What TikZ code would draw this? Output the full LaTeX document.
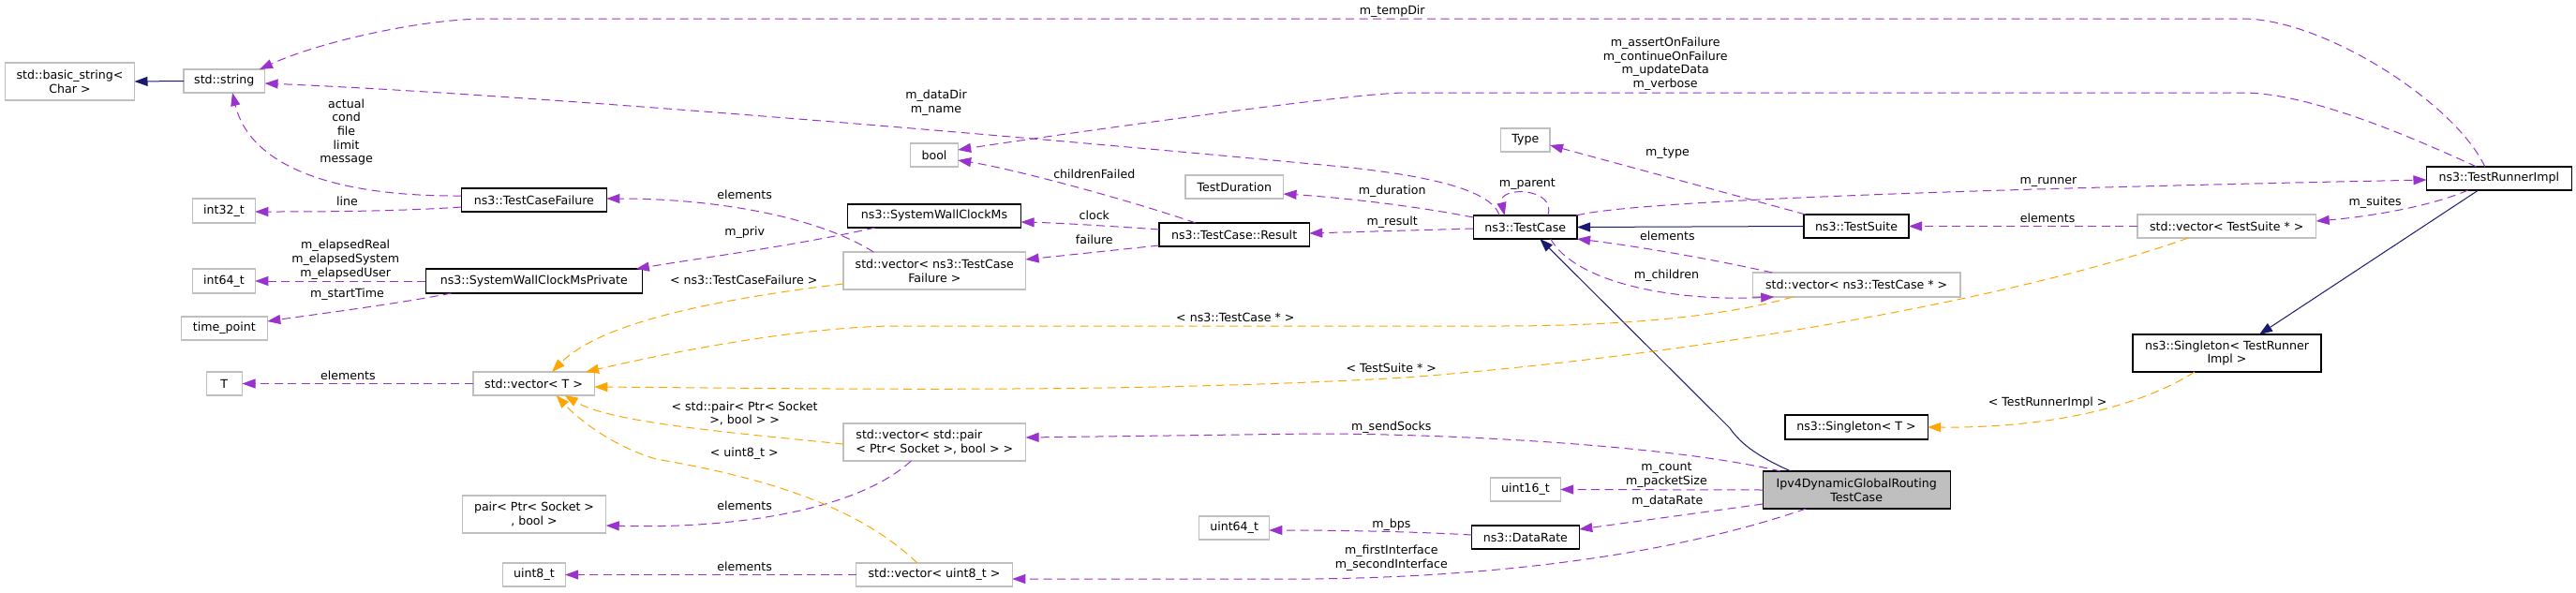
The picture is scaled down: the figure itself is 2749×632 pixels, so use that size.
\documentclass[tikz,border=0pt]{standalone}
\usepackage{fontspec}
\setmainfont{DejaVu Sans}
\usetikzlibrary{arrows.meta}
\definecolor{usepurple}{HTML}{9A32CD}
\definecolor{tmplorange}{HTML}{FFA500}
\definecolor{inhnavy}{HTML}{191970}
\definecolor{boxgrey}{HTML}{BFBFBF}
\newcommand\dgfont{\fontsize{12.6}{14.7}\selectfont}
\begin{document}
\begin{tikzpicture}[x=1pt,y=-1pt,
  every node/.style={font=\dgfont, inner sep=0pt, outer sep=0pt},
  sz/.style 2 args={minimum width=#1pt, minimum height=#2pt},
  gbox/.style={draw=boxgrey, line width=1.2pt, fill=white, align=center},
  bbox/.style={draw=black, line width=1.2pt, fill=white, align=center},
  lbl/.style={align=center, text=black},
  tipped/.style={-{Triangle[length=14pt,width=10pt]}},
  usage/.style={tipped, draw=usepurple, line width=1pt, dash pattern=on 9pt off 5.5pt},
  tmpl/.style={tipped, draw=tmplorange, line width=1pt, dash pattern=on 9pt off 5.5pt},
  inh/.style={tipped, draw=inhnavy, line width=1pt},
]
\useasboundingbox (0,0) rectangle (2749,632);
\fill[white] (0,0) rectangle (2749,632);

% ---------------- nodes ----------------
\node[gbox, sz={138}{40}] (bstr) at (74.5,87) {std::basic\_string<\\Char >};
\node[gbox, sz={86.6}{25}] (str) at (239.3,86.5) {std::string};
\node[gbox, sz={66.5}{26}] (i32) at (239,225) {int32\_t};
\node[bbox, sz={155}{25}] (tcf) at (569.9,213.5) {ns3::TestCaseFailure};
\node[gbox, sz={66.5}{26}] (i64) at (239,300) {int64\_t};
\node[bbox, sz={230.8}{26}] (swp) at (569.8,300) {ns3::SystemWallClockMsPrivate};
\node[gbox, sz={92}{25}] (tp) at (239.3,350.5) {time\_point};
\node[gbox, sz={38.4}{25}] (T) at (239.3,409.5) {T};
\node[gbox, sz={129.4}{25}] (vT) at (569.6,409.5) {std::vector< T >};
\node[gbox, sz={153.5}{40}] (pair) at (570,549) {pair< Ptr< Socket >\\, bool >};
\node[gbox, sz={66.5}{25}] (u8) at (569.9,613.5) {uint8\_t};
\node[gbox, sz={50.4}{25}] (bool) at (997,165.5) {bool};
\node[bbox, sz={185.2}{25}] (swc) at (997,230.5) {ns3::SystemWallClockMs};
\node[gbox, sz={194.6}{40}] (vtcf) at (997.3,289) {std::vector< ns3::TestCase\\Failure >};
\node[bbox, sz={160.3}{25}] (res) at (1317.1,250.5) {ns3::TestCase::Result};
\node[gbox, sz={104.5}{25}] (dur) at (1317.3,199.5) {TestDuration};
\node[gbox, sz={194.6}{40}, align=left] (vpair) at (997.3,472) {std::vector< std::pair\\< Ptr< Socket >, bool > >};
\node[gbox, sz={74.5}{25}] (u64) at (1317.1,563.5) {uint64\_t};
\node[gbox, sz={166.5}{25}] (vu8) at (997,613.5) {std::vector< uint8\_t >};
\node[gbox, sz={52.2}{25}] (type) at (1627.9,149.5) {Type};
\node[bbox, sz={110.7}{25}] (tc) at (1627.7,242.5) {ns3::TestCase};
\node[bbox, sz={112}{25}] (ts) at (1981,241.5) {ns3::TestSuite};
\node[gbox, sz={221.4}{26}] (vtc) at (1981.2,304) {std::vector< ns3::TestCase * >};
\node[bbox, sz={152.2}{26}] (sgT) at (1981,456) {ns3::Singleton< T >};
\node[bbox, sz={200}{40}, fill=boxgrey] (ipv4) at (1981.2,523) {Ipv4DynamicGlobalRouting\\TestCase};
\node[gbox, sz={74.6}{25}] (u16) at (1627.9,522.5) {uint16\_t};
\node[bbox, sz={114.8}{25}] (dr) at (1627.9,573.5) {ns3::DataRate};
\node[bbox, sz={154.7}{25}] (tri) at (2666.8,190.5) {ns3::TestRunnerImpl};
\node[gbox, sz={190.8}{25}] (vts) at (2376.3,241.5) {std::vector< TestSuite * >};
\node[bbox, sz={201}{40}] (sgTRI) at (2376.5,377) {ns3::Singleton< TestRunner\\Impl >};

% ---------------- labels ----------------
\node[lbl] (Lactual) at (369.6,141) {actual\\cond\\file\\limit\\message};
\node[lbl] (Lline) at (370.5,215) {line};
\node[lbl] (Lelapsed) at (368.7,277) {m\_elapsedReal\\m\_elapsedSystem\\m\_elapsedUser};
\node[lbl] (Lstart) at (370.5,314) {m\_startTime};
\node[lbl] (LelemT) at (371.4,400.7) {elements};
\node[lbl] (LdataDir) at (999,109.7) {m\_dataDir\\m\_name};
\node[lbl] (Lchildf) at (1167.8,186) {childrenFailed};
\node[lbl] (Lclock) at (1167.8,230) {clock};
\node[lbl] (Lfailure) at (1167.8,255.3) {failure};
\node[lbl] (LelemTCF) at (794.6,207.3) {elements};
\node[lbl] (Lpriv) at (794.6,248.3) {m\_priv};
\node[lbl] (LtcfT) at (793.7,298.3) {< ns3::TestCaseFailure >};
\node[lbl] (LtcT) at (1318.3,339.3) {< ns3::TestCase * >};
\node[lbl] (LpairT) at (794.6,441.3) {< std::pair< Ptr< Socket\\>, bool > >};
\node[lbl] (Lu8T) at (794.2,484.3) {< uint8\_t >};
\node[lbl] (LelemPair) at (794.6,539.3) {elements};
\node[lbl] (LelemU8) at (794.6,604.3) {elements};
\node[lbl] (Ltemp) at (1485.7,11.7) {m\_tempDir};
\node[lbl] (Lassert) at (1777.2,68.3) {m\_assertOnFailure\\m\_continueOnFailure\\m\_updateData\\m\_verbose};
\node[lbl] (Ltype) at (1779.4,163.7) {m\_type};
\node[lbl] (Lparent) at (1629.9,196.7) {m\_parent};
\node[lbl] (Lduration) at (1485.7,204.3) {m\_duration};
\node[lbl] (Lresult) at (1485.7,236.7) {m\_result};
\node[lbl] (LelemTC) at (1779.4,251.7) {elements};
\node[lbl] (Lchildren) at (1778.5,294.3) {m\_children};
\node[lbl] (LtsT) at (1484.8,392.3) {< TestSuite * >};
\node[lbl] (Lsend) at (1484.8,455.7) {m\_sendSocks};
\node[lbl] (Lcount) at (1778.5,507.2) {m\_count\\m\_packetSize};
\node[lbl] (LdataRate) at (1779.4,534.7) {m\_dataRate};
\node[lbl] (Lbps) at (1484.8,559.7) {m\_bps};
\node[lbl] (Lfirst) at (1484.8,596) {m\_firstInterface\\m\_secondInterface};
\node[lbl] (Lrunner) at (2186,194.7) {m\_runner};
\node[lbl] (Lsuites) at (2534.6,215.7) {m\_suites};
\node[lbl] (LelemTS) at (2185.1,232.3) {elements};
\node[lbl] (LtriT) at (2185.1,430) {< TestRunnerImpl >};

% ---------------- connectors ----------------
% inheritance
\draw[inh] (str.west) -- (bstr.east);
\draw[inh] (ts.west) -- (tc.east);
\draw[inh] ([shift={(-70,0)}]ipv4.north) .. controls (1870,485) and (1855,470) .. (1846,457) -- ([shift={(15.6,0)}]tc.south);
\draw[inh] ([shift={(-22,0)}]tri.south) -- ([shift={(34.5,0)}]sgTRI.north);

% usage
\draw[usage] ([shift={(-15,0)}]tri.north) .. controls (2620,110) and (2480,20) .. (2393,20) -- (520,20) .. controls (450,20) and (340,45) .. ([shift={(37.7,0)}]str.north);
\draw[usage] ([shift={(-24,0)}]tri.north) .. controls (2560,140) and (2460,99) .. (2393,99) -- (1500,99) .. controls (1440,99) and (1100,148) .. ([shift={(0,-5.5)}]bool.east);
\draw[usage] ([shift={(-27.7,0)}]tc.north) .. controls (1590,195) and (1480,182) .. (1400,175) .. controls (1050,142) and (550,100) .. ([shift={(0,2.5)}]str.east);
\draw[usage] ([shift={(0,-4.5)}]tcf.west) .. controls (340,210) and (265,170) .. ([shift={(8.7,0)}]str.south);
\draw[usage] ([shift={(0,7.5)}]tcf.west) .. controls (420,226) and (330,226) .. ([shift={(0,1)}]i32.east);
\draw[usage] ([shift={(-65,0)}]vtcf.north) .. controls (870,230) and (760,212) .. ([shift={(0,-1.5)}]tcf.east);
\draw[usage] ([shift={(-63,0)}]swc.south) .. controls (850,262) and (750,275) .. ([shift={(109,0)}]swp.north);
\draw[usage] (swp.west) -- (i64.east);
\draw[usage] ([shift={(-88,0)}]swp.south) .. controls (420,325) and (340,335) .. ([shift={(0,-7.5)}]tp.east);
\draw[usage] (vT.west) -- (T.east);
\draw[usage] ([shift={(-25,0)}]vpair.south) .. controls (920,540) and (800,565) .. ([shift={(0,12)}]pair.east);
\draw[usage] (vu8.west) -- (u8.east);
\draw[usage] ([shift={(-81,0)}]ipv4.north) .. controls (1780,475) and (1550,463) .. (1400,463) -- ([shift={(0,-5)}]vpair.east);
\draw[usage] (ipv4.west) -- (u16.east);
\draw[usage] ([shift={(0,15)}]ipv4.west) -- ([shift={(0,-8.5)}]dr.east);
\draw[usage] ([shift={(0,-2.5)}]dr.west) .. controls (1500,567) and (1420,566) .. ([shift={(0,2.5)}]u64.east);
\draw[usage] ([shift={(-54,0)}]ipv4.south) .. controls (1820,580) and (1650,615) .. (1400,618) -- ([shift={(0,4.5)}]vu8.east);
\draw[usage] ([shift={(-54,0)}]ts.north) -- ([shift={(0,5.5)}]type.east);
\draw[usage] ([shift={(24,0)}]tc.north) .. controls (1662,200) and (1598,198) .. ([shift={(-22,0)}]tc.north);
\draw[usage] ([shift={(0,-10.5)}]tc.west) .. controls (1500,218) and (1420,210) .. ([shift={(0,7.5)}]dur.east);
\draw[usage] ([shift={(0,1.5)}]tc.west) -- ([shift={(0,-1.5)}]res.east);
\draw[usage] ([shift={(-41,0)}]res.north) .. controls (1200,212) and (1080,180) .. ([shift={(0,5.5)}]bool.east);
\draw[usage] ([shift={(0,-5.5)}]res.west) .. controls (1180,241) and (1130,238) .. ([shift={(0,6.5)}]swc.east);
\draw[usage] ([shift={(0,11.5)}]res.west) -- ([shift={(0,-12)}]vtcf.east);
\draw[usage] ([shift={(-90,0)}]vtc.north) .. controls (1820,275) and (1740,262) .. (tc.south east);
\draw[usage] ([shift={(27,0)}]tc.south) .. controls (1680,300) and (1780,322) .. ([shift={(-88,0)}]vtc.south);
\draw[usage] ([shift={(-1,0)}]tc.north east) .. controls (1760,210) and (2300,198) .. ([shift={(0,1.5)}]tri.west);
\draw[usage] ([shift={(-33,0)}]tri.south) .. controls (2590,222) and (2520,232) .. ([shift={(0,-5.5)}]vts.east);
\draw[usage] (vts.west) -- (ts.east);

% template instances
\draw[tmpl] ([shift={(0,14)}]vtcf.west) .. controls (760,320) and (640,345) .. ([shift={(19.4,0)}]vT.north);
\draw[tmpl] ([shift={(-68,0)}]vtc.south) .. controls (1850,335) and (1750,348) .. (1600,348) -- (950,348) .. controls (850,350) and (720,375) .. ([shift={(55.4,0)}]vT.north);
\draw[tmpl] ([shift={(-41,0)}]vts.south) .. controls (2150,320) and (1800,380) .. (1500,403) .. controls (1200,420) and (900,415) .. ([shift={(0,3.5)}]vT.east);
\draw[tmpl] ([shift={(0,2)}]vpair.west) .. controls (760,460) and (650,450) .. ([shift={(33,0)}]vT.south);
\draw[tmpl] ([shift={(-18,0)}]vu8.north) .. controls (920,545) and (830,512) .. (700,490) .. controls (650,475) and (615,445) .. ([shift={(24,0)}]vT.south);
\draw[tmpl] ([shift={(-34.5,0)}]sgTRI.south) .. controls (2290,430) and (2200,457) .. (sgT.east);
\end{tikzpicture}
\end{document}
